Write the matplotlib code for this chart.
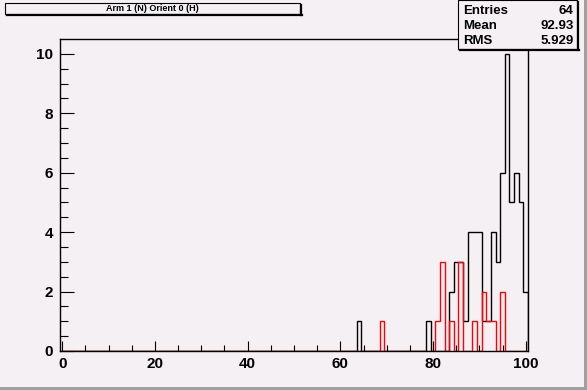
import numpy as np
import matplotlib
matplotlib.use("Agg")
import matplotlib.pyplot as plt
from matplotlib.patches import Rectangle
from matplotlib.lines import Line2D

# ---- data (bin centres and counts) ----
black_bins = [64, 79, 84, 85, 86, 87, 88, 89, 90, 91, 92, 93, 94, 95, 96, 97, 98, 99, 100]
black_counts = [1, 1, 2, 3, 3, 1, 4, 4, 4, 1, 1, 4, 3, 6, 10, 5, 6, 5, 2]
red_bins = [69, 81, 82, 84, 86, 89, 91, 92, 93, 95]
red_counts = [1, 1, 3, 1, 3, 1, 2, 1, 1, 2]
title = "Arm 1 (N) Orient 0 (H)"
stats = [("Entries", "64"), ("Mean", "92.93"), ("RMS", "5.929")]
x_ticks = [0, 20, 40, 60, 80, 100]
y_ticks = [0, 2, 4, 6, 8, 10]

edges = np.arange(-0.5, 101.0, 1.0)
centres = np.arange(0, 101)
black_h = np.zeros(len(centres))
red_h = np.zeros(len(centres))
for b, c in zip(black_bins, black_counts):
    black_h[b] = c
for b, c in zip(red_bins, red_counts):
    red_h[b] = c

W, H = 587, 390
bg = "#f4f0f4"
plt.rcParams['font.family'] = ['Liberation Sans', 'DejaVu Sans']
fig = plt.figure(figsize=(W / 100, H / 100), dpi=100, facecolor=bg)

def fx(px):
    return px / W

def fy(py):
    return 1 - py / H

L, R, T, B = 60, 528, 39, 351
ax = fig.add_axes([fx(L), fy(B), fx(R) - fx(L), fy(T) - fy(B)], facecolor=bg)
lw = 1.0
ax.stairs(black_h, edges, color="black", linewidth=lw, baseline=0)
ax.stairs(red_h, edges, color="red", linewidth=lw, baseline=0)
ax.set_xlim(-0.5, 100.5)
ax.set_ylim(0, 10.5)
for s in ax.spines.values():
    s.set_linewidth(lw)
ax.set_xticks(x_ticks)
ax.set_xticklabels([str(t) for t in x_ticks])
ax.set_xticks(np.arange(0, 101, 5), minor=True)
ax.set_yticks(y_ticks)
ax.set_yticklabels([str(t) for t in y_ticks])
ax.set_yticks(np.arange(0, 10.5, 0.5), minor=True)
ax.tick_params(axis='x', which='major', direction='in', length=7.5, width=0.8,
               pad=4.5, labelsize=11, top=False)
ax.tick_params(axis='x', which='minor', direction='in', length=4, width=0.8, top=False)
ax.tick_params(axis='y', which='major', direction='in', length=10, width=0.8,
               pad=5, labelsize=11, right=False)
ax.tick_params(axis='y', which='minor', direction='in', length=5.4, width=0.8, right=False)
for lab in ax.get_xticklabels() + ax.get_yticklabels():
    lab.set_fontweight('bold')

# ---- title box ----
fig.add_artist(Rectangle((fx(5), fy(14)), fx(300) - fx(5), fy(3) - fy(14),
                         transform=fig.transFigure, facecolor=bg, edgecolor='black',
                         linewidth=0.8, zorder=5))
fig.add_artist(Line2D([fx(301), fx(301)], [fy(4.5), fy(15)], transform=fig.transFigure,
                      color='black', linewidth=1.6, zorder=5))
fig.add_artist(Line2D([fx(6.5), fx(301.5)], [fy(15), fy(15)], transform=fig.transFigure,
                      color='black', linewidth=1.6, zorder=5))
fig.text(fx(152.5), fy(8.7), title, ha='center', va='center', fontsize=6.5,
         fontweight='bold', zorder=6)

# ---- stats box ----
fig.add_artist(Rectangle((fx(458), fy(49)), fx(577) - fx(458), fy(0) - fy(49),
                         transform=fig.transFigure, facecolor=bg, edgecolor='black',
                         linewidth=0.8, zorder=5))
fig.add_artist(Line2D([fx(578), fx(578)], [fy(1.5), fy(50)], transform=fig.transFigure,
                      color='black', linewidth=1.6, zorder=5))
fig.add_artist(Line2D([fx(459.5), fx(578.5)], [fy(50), fy(50)], transform=fig.transFigure,
                      color='black', linewidth=1.6, zorder=5))
for i, (k, v) in enumerate(stats):
    yy = fy(11.5 + 14.7 * i)
    fig.text(fx(463), yy, k, ha='left', va='center', fontsize=9.5, fontweight='bold', zorder=6)
    fig.text(fx(573.5), yy, v, ha='right', va='center', fontsize=9.5, fontweight='bold', zorder=6)

# ---- canvas bevel ----
fig.add_artist(Rectangle((fx(584), 0), fx(587) - fx(584), 1, transform=fig.transFigure,
                         facecolor='#a0a0a0', edgecolor='none', zorder=7))
fig.add_artist(Rectangle((0, 0), 1, fy(387), transform=fig.transFigure,
                         facecolor='#a0a0a0', edgecolor='none', zorder=7))

fig.savefig("out.png", dpi=100, facecolor=bg)
